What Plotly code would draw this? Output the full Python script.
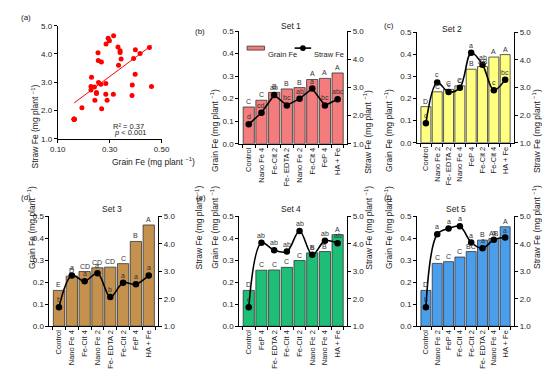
import plotly.graph_objects as go
import numpy as np

W, H = 550, 371

set_names = ["Set 1", "Set 2", "Set 3", "Set 4", "Set 5"]
panel_tags = ["(b)", "(c)", "(d)", "(e)", "(f)"]

cats1 = ["Control", "Nano Fe 4", "Fe-Cit 2", "Fe- EDTA 2", "Nano Fe 2", "Fe-Cit 4", "FeP 4", "HA + Fe"]
grain1 = [0.163, 0.193, 0.228, 0.243, 0.249, 0.285, 0.290, 0.314]
straw1 = [1.69, 2.10, 2.73, 2.36, 2.60, 2.96, 2.36, 2.58]
gl1 = ["C", "C", "B", "B", "B", "A", "A", "A"]
sl1 = ["d", "cd", "ab", "bc", "ab", "a", "bc", "abc"]

cats2 = ["Control", "Nano Fe 2", "Fe- EDTA 2", "Nano Fe 4", "FeP 4", "Fe-Cit 2", "Fe-Cit 4", "HA + Fe"]
grain2 = [0.163, 0.230, 0.241, 0.257, 0.332, 0.344, 0.387, 0.398]
straw2 = [1.70, 3.18, 2.83, 2.99, 4.25, 3.82, 2.90, 3.28]
gl2 = ["D", "C", "C", "C", "B", "AB", "A", "A"]
sl2 = ["c", "c", "c", "c", "a", "ab", "c", "bc"]

cats3 = ["Control", "Nano Fe 4", "Fe-Cit 4", "Nano Fe 2", "Fe- EDTA 2", "Fe-Cit 2", "FeP 4", "HA + Fe"]
grain3 = [0.163, 0.228, 0.249, 0.266, 0.269, 0.285, 0.386, 0.461]
straw3 = [1.69, 2.85, 2.64, 2.93, 2.06, 2.58, 2.53, 2.85]
gl3 = ["E", "D", "CD", "CD", "CD", "C", "B", "A"]
sl3 = ["b", "a", "a", "a", "b", "a", "a", "a"]

cats4 = ["Control", "FeP 4", "Fe- EDTA 2", "Fe-Cit 4", "Fe-Cit 2", "Nano Fe 2", "Nano Fe 4", "HA + Fe"]
grain4 = [0.163, 0.255, 0.256, 0.268, 0.299, 0.334, 0.340, 0.417]
straw4 = [1.69, 4.04, 3.77, 3.72, 4.47, 3.60, 4.11, 4.02]
gl4 = ["D", "C", "C", "C", "C", "B", "B", "A"]
sl4 = ["c", "ab", "ab", "ab", "ab", "b", "ab", "ab"]

cats5 = ["Control", "Nano Fe 2", "FeP 4", "Fe-Cit 4", "Fe-Cit 2", "Fe- EDTA 2", "Nano Fe 4", "HA + Fe"]
grain5 = [0.163, 0.286, 0.294, 0.315, 0.340, 0.392, 0.399, 0.453]
straw5 = [1.69, 4.35, 4.56, 4.64, 4.05, 3.84, 4.15, 4.23]
gl5 = ["D", "C", "C", "C", "BC", "B", "AB", "A"]
sl5 = ["b", "a", "a", "a", "a", "a", "a", "a"]

grain_ticks = [0.0, 0.1, 0.2, 0.3, 0.4, 0.5]
grain_ticktext = ["0.0", "0.1", "0.2", "0.3", "0.4", "0.5"]
straw_ticks = [1.0, 2.0, 3.0, 4.0, 5.0]
straw_ticktext = ["1.0", "2.0", "3.0", "4.0", "5.0"]
scatter_xticks = [0.10, 0.30, 0.50]
scatter_xticktext = ["0.10", "0.30", "0.50"]

cats = [cats1, cats2, cats3, cats4, cats5]
grains = [grain1, grain2, grain3, grain4, grain5]
straws = [straw1, straw2, straw3, straw4, straw5]
gls = [gl1, gl2, gl3, gl4, gl5]
sls = [sl1, sl2, sl3, sl4, sl5]

colors = ["#F47C7C", "#FFFF80", "#C4914F", "#1EBE77", "#4A9EEB"]
line_shapes = ["linear", "spline", "spline", "spline", "spline"]

FONT = "Liberation Sans, Arial, sans-serif"


def px(x):
    return x / W


def py(y):
    return 1 - y / H


rect_a = (43, 150, 14, 130)
rects = [
    (230, 341, 19.5, 135),
    (413, 513, 20.5, 134),
    (34.5, 146.5, 209.5, 322),
    (230, 341, 209.5, 322),
    (413, 513, 209.5, 322),
]
left_title_x = [205, 392, 9, 205, 392]
right_title_x = [362, 544, 181, 363, 544]
tag_pos = [(182, 13), (377, 7), (3, 190), (183, 190), (377, 190)]
set_title_pos = [(283, 7), (461, 10), (87, 202), (283, 202), (466, 202)]

fig = go.Figure()
annotations = []
shapes = []

axis_common = dict(showline=True, linecolor="black", linewidth=1, ticks="outside",
                   ticklen=3, tickcolor="black", showgrid=False, zeroline=False,
                   tickfont=dict(size=8, color="#222", family=FONT))

# ---- panel (a) scatter ----
all_g = np.array(sum(grains, []))
all_s = np.array(sum(straws, []))
fig.add_trace(go.Scatter(x=all_g, y=all_s, mode="markers",
                         marker=dict(color="#FF0000", size=5),
                         xaxis="x", yaxis="y", showlegend=False))
slope, icpt = np.polyfit(all_g, all_s, 1)
xl = np.array([all_g.min(), all_g.max()])
fig.add_trace(go.Scatter(x=xl, y=slope * xl + icpt, mode="lines",
                         line=dict(color="#FF0000", width=1),
                         xaxis="x", yaxis="y", showlegend=False))
layout = dict(
    xaxis=dict(domain=[px(rect_a[0]), px(rect_a[1])], range=[0.0999, 0.5001],
               tickvals=scatter_xticks, ticktext=scatter_xticktext, anchor="y", **axis_common),
    yaxis=dict(domain=[py(rect_a[3]), py(rect_a[2])], range=[0.999, 5.001],
               tickvals=straw_ticks, ticktext=straw_ticktext, anchor="x", **axis_common),
)
annotations += [
    dict(text="(a)", x=px(3), y=py(6), xref="paper", yref="paper", xanchor="left",
         yanchor="middle", showarrow=False, font=dict(size=8)),
    dict(text="Straw Fe (mg plant <sup>−1</sup>)", x=px(12), y=py(72), xref="paper",
         yref="paper", textangle=-90, showarrow=False, font=dict(size=8.5)),
    dict(text="Grain Fe (mg plant <sup>−1</sup>)", x=px(97), y=py(153), xref="paper",
         yref="paper", showarrow=False, font=dict(size=8.5)),
    dict(text="R² = 0.37", x=px(134), y=py(111), xref="paper", yref="paper",
         xanchor="right", showarrow=False, font=dict(size=7.5)),
    dict(text="<i>p</i> < 0.001", x=px(137), y=py(124), xref="paper", yref="paper",
         xanchor="right", showarrow=False, font=dict(size=7.5)),
]

# ---- bar panels ----
for i in range(5):
    xi = 2 + i
    yl = 2 + 2 * i
    yr = 3 + 2 * i
    xa, yla, yra = f"x{xi}", f"y{yl}", f"y{yr}"
    L, R, T, B = rects[i]
    fig.add_trace(go.Bar(x=cats[i], y=grains[i], marker=dict(color=colors[i],
                         line=dict(color="#333333", width=0.8)),
                         xaxis=xa, yaxis=yla, showlegend=False))
    fig.add_trace(go.Scatter(x=cats[i], y=straws[i], mode="lines+markers",
                             line=dict(color="black", width=1.6, shape=line_shapes[i]),
                             marker=dict(color="black", size=6.5),
                             xaxis=xa, yaxis=yra, showlegend=False))
    layout[f"xaxis{xi}"] = dict(domain=[px(L), px(R)], anchor=yla, type="category",
                                tickangle=-90, tickson="boundaries",
                                **{**axis_common, "tickfont": dict(size=7.5, color="#222", family=FONT)})
    layout[f"yaxis{yl}"] = dict(domain=[py(B), py(T)], anchor=xa, range=[0, 0.5001],
                                tickvals=grain_ticks, ticktext=grain_ticktext, **axis_common)
    layout[f"yaxis{yr}"] = dict(overlaying=yla, side="right", anchor=xa, range=[1, 5.001],
                                tickvals=straw_ticks, ticktext=straw_ticktext, **axis_common)
    for c, g, s, a, b in zip(cats[i], grains[i], straws[i], gls[i], sls[i]):
        annotations.append(dict(text=a, x=c, y=g, xref=xa, yref=yla, yanchor="bottom",
                                yshift=0, showarrow=False, font=dict(size=7, color="#333")))
        annotations.append(dict(text=b, x=c, y=s, xref=xa, yref=yra, yanchor="bottom",
                                yshift=2, showarrow=False, font=dict(size=7, color="#333")))
    cy = (T + B) / 2
    annotations += [
        dict(text="Grain Fe (mg plant <sup>−1</sup>)", x=px(left_title_x[i]), y=py(cy),
             xref="paper", yref="paper", textangle=-90, showarrow=False, font=dict(size=8.5)),
        dict(text="Straw Fe (mg plant <sup>−1</sup>)", x=px(right_title_x[i]), y=py(cy),
             xref="paper", yref="paper", textangle=-90, showarrow=False, font=dict(size=8.5)),
        dict(text=panel_tags[i], x=px(tag_pos[i][0]), y=py(tag_pos[i][1]), xref="paper",
             yref="paper", xanchor="left", showarrow=False, font=dict(size=8)),
        dict(text=set_names[i], x=px(set_title_pos[i][0]), y=py(set_title_pos[i][1]),
             xref="paper", yref="paper", showarrow=False, font=dict(size=8.5)),
    ]

# legend of panel (b), drawn manually
shapes += [
    dict(type="rect", xref="paper", yref="paper", x0=px(238), x1=px(256), y0=py(39), y1=py(35),
         fillcolor=colors[0], line=dict(color="#333", width=0.8)),
    dict(type="line", xref="paper", yref="paper", x0=px(287), x1=px(304), y0=py(37), y1=py(37),
         line=dict(color="black", width=1.6)),
    dict(type="circle", xref="paper", yref="paper", x0=px(292.5), x1=px(298.5), y0=py(40), y1=py(34),
         fillcolor="black", line=dict(color="black", width=0)),
]
annotations += [
    dict(text="Grain Fe", x=px(257), y=py(37), xref="paper", yref="paper", xanchor="left",
         showarrow=False, font=dict(size=7.5)),
    dict(text="Straw Fe", x=px(305), y=py(37), xref="paper", yref="paper", xanchor="left",
         showarrow=False, font=dict(size=7.5)),
]

fig.update_layout(**layout)
fig.update_layout(width=W, height=H, margin=dict(l=0, r=0, t=0, b=0),
                  paper_bgcolor="white", plot_bgcolor="white", bargap=0.12,
                  font=dict(family=FONT, size=8, color="#222"),
                  annotations=annotations, shapes=shapes, showlegend=False)
fig.write_html("out.html")
